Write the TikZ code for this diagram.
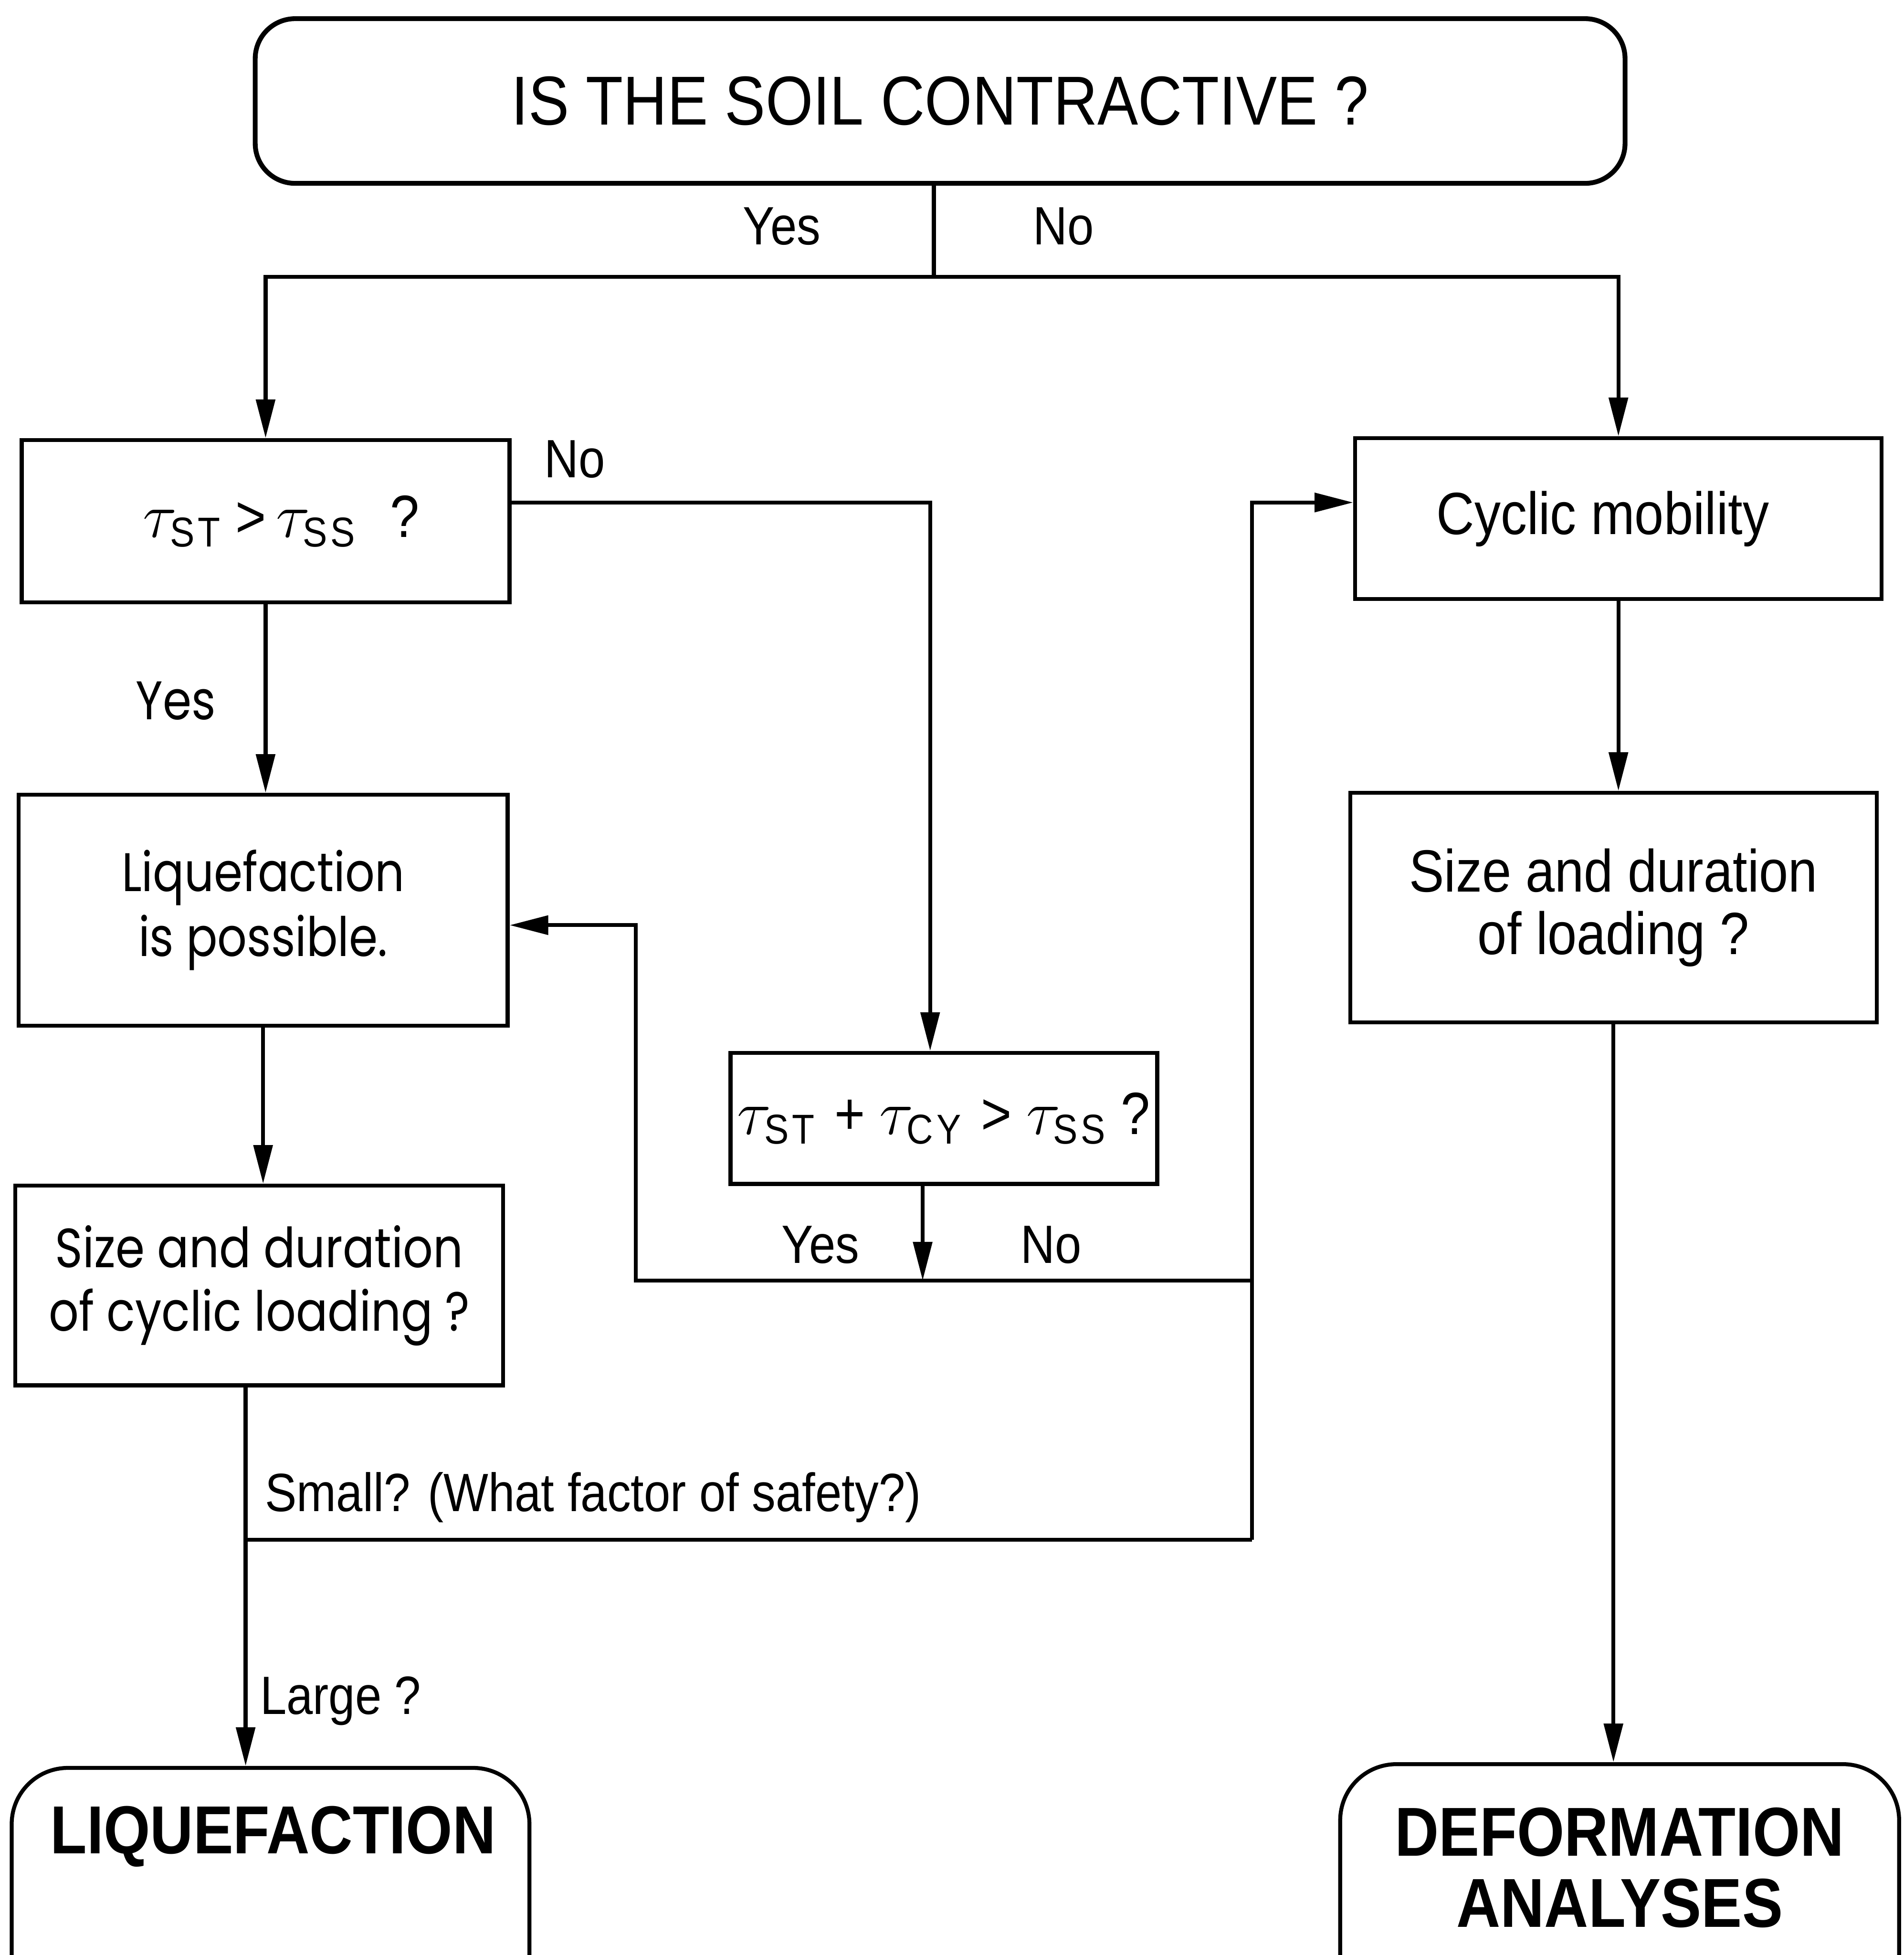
\documentclass[tikz,border=0pt]{standalone}
\usepackage{fontspec}
\setmainfont{Liberation Sans}[FakeStretch=0.88]
\newfontfamily\geofont{Poppins}[FakeStretch=0.85]
\usetikzlibrary{arrows.meta,positioning,calc}

\begin{document}
\begin{tikzpicture}[x=0.01cm, y=-0.01cm,
    box/.style={draw, line width=0.9pt, align=center, inner sep=0pt},
    endbox/.style={draw, line width=0.9pt, rounded corners=0.45cm, inner sep=0pt},
    arr/.style={-{Triangle[length=0.31cm,width=0.15cm]}, line width=0.9pt},
    lbl/.style={font=\fontsize{12.3}{14}\selectfont, inner sep=0pt}]
    \useasboundingbox (0,0) rectangle (1527,1568);
    \clip (0,0) rectangle (1527,1568);

    % Top question
    \node[box, rounded corners=0.32cm, line width=1.1pt, minimum width=10.98cm, minimum height=1.32cm,
        font=\fontsize{15.8}{18}\selectfont] (top) at (754,81) {IS THE SOIL CONTRACTIVE ?};

    % Left column
    \node[box, minimum width=3.91cm, minimum height=1.30cm, font=\fontsize{13.6}{16}\selectfont]
        (qst) at (213,418) {\hspace*{0.25cm}$\tau_{\mathrm{ST}}$\,>\,$\tau_{\mathrm{SS}}$ \ ?};
    \node[box, minimum width=3.92cm, minimum height=1.85cm, font=\geofont\fontsize{12.4}{14.8}\selectfont]
        (poss) at (211,730) {Liquefaction\\is possible.};
    \node[box, minimum width=3.91cm, minimum height=1.60cm, font=\geofont\fontsize{12.6}{14.5}\selectfont]
        (szcyc) at (208,1031) {Size and duration\\of cyclic loading ?};

    % Middle question
    \node[box, minimum width=3.42cm, minimum height=1.05cm, font=\fontsize{13.6}{16}\selectfont]
        (qcy) at (757,897) {$\tau_{\mathrm{ST}}$ + $\tau_{\mathrm{CY}}$ > $\tau_{\mathrm{SS}}$\,?};

    % Right column
    \node[box, minimum width=4.22cm, minimum height=1.29cm, font=\fontsize{13.6}{16}\selectfont]
        (cyc) at (1298,416) {Cyclic mobility\hspace*{0.25cm}};
    \node[box, minimum width=4.22cm, minimum height=1.84cm, font=\fontsize{13.6}{14.2}\selectfont]
        (szload) at (1294,728) {Size and duration\\of loading ?};

    % End boxes (cut by the lower edge)
    \node[endbox, minimum width=4.15cm, minimum height=2.3cm] (liq) at (217,1533) {};
    \node[font=\bfseries\fontsize{15.5}{18}\selectfont] (liqtxt) at (219,1473) {LIQUEFACTION};
    \node[endbox, minimum width=4.48cm, minimum height=2.3cm] (def) at (1299,1530) {};
    \node[align=center, font=\bfseries\fontsize{15.8}{16.2}\selectfont] (deftxt) at (1299,1498) {DEFORMATION\\ANALYSES};

    % Split below the top question
    \coordinate (split) at (749,222);
    \draw[line width=0.9pt] (top.south -| split) -- (split);
    \draw[arr] (split) -| (qst.north);
    \draw[arr] (split) -| (cyc.north);
    \node[lbl, anchor=base] (yes1) at (627,196) {Yes};
    \node[lbl, anchor=base] (no1) at (853,196) {No};

    % Branches of the first test
    \coordinate (nobend) at (746,403);
    \draw[arr] (qst.east |- nobend) -- (nobend) -- (nobend |- qcy.north);
    \node[lbl, anchor=base] (no2) at (461,383) {No};
    \draw[arr] (qst.south) -- (qst.south |- poss.north);
    \node[lbl, anchor=base, font=\geofont\fontsize{12.4}{14}\selectfont] (yes2) at (141,577) {Yes};
    \draw[arr] (poss.south) -- (poss.south |- szcyc.north);

    % Branches of the second test
    \coordinate (mid) at (740,1027);
    \coordinate (back) at (510,1027);
    \coordinate (backtop) at (510,742);
    \coordinate (fwd) at (1004,1027);
    \coordinate (rise) at (1004,403);
    \coordinate (small) at (1004,1235);
    \draw[arr] (qcy.south -| mid) -- (mid);
    \node[lbl, anchor=base] (yes3) at (658,1013) {Yes};
    \node[lbl, anchor=base] (no3) at (843,1013) {No};
    \draw[arr] (mid) -- (back) -- (backtop) -- (backtop -| poss.east);
    \draw[line width=0.9pt] (mid) -- (fwd);
    \draw[arr] (small) -- (rise) -- (rise -| cyc.west);

    % Outcome of the cyclic loading
    \coordinate (fork) at (197,1235);
    \draw[arr] (szcyc.south -| fork) -- (fork |- liq.north);
    \draw[line width=0.9pt] (fork) -- (small);
    \node[lbl, anchor=base west] (smalllbl) at (212,1212) {Small? (What factor of safety?)};
    \node[lbl, anchor=base west] (largelbl) at (208,1375) {Large ?};

    % Right column connectors
    \draw[arr] (cyc.south) -- (cyc.south |- szload.north);
    \draw[arr] (szload.south) -- (szload.south |- def.north);
\end{tikzpicture}
\end{document}
